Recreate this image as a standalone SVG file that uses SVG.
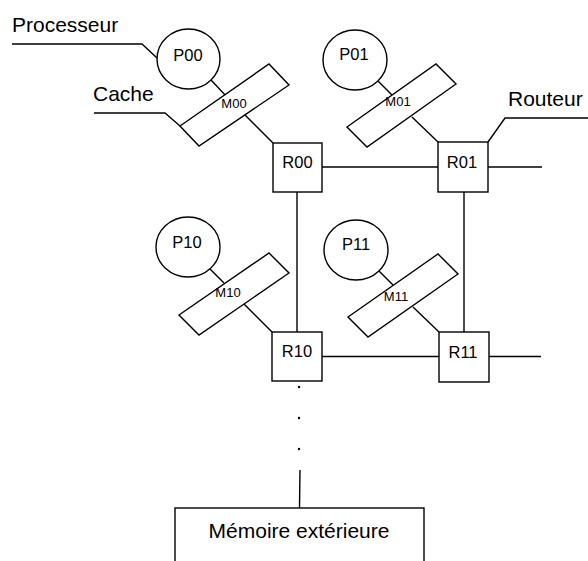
<svg xmlns="http://www.w3.org/2000/svg" width="588" height="561" viewBox="0 0 588 561">
<style>
.s{fill:none;stroke:#000;stroke-width:1.4;stroke-linejoin:miter}
.b{fill:#fff;stroke:#000;stroke-width:1.4}
text{font-family:"Liberation Sans",Arial,sans-serif;fill:#000}
.lbl{font-size:21px}
.n{font-size:16.5px;text-anchor:middle}
.m{font-size:13px;text-anchor:middle}
</style>
<rect width="588" height="561" fill="#fff"/>
<g id="connectors">
<polyline class="s" points="12,44 142,44 157,58"/>
<polyline class="s" points="94,113 165,113 180,126"/>
<polyline class="s" points="488,142 505,118 588,118"/>
<line class="s" x1="211" y1="80" x2="227" y2="97"/>
<line class="s" x1="245" y1="115" x2="273" y2="143"/>
<line class="s" x1="378" y1="81" x2="392" y2="95"/>
<line class="s" x1="412" y1="117" x2="438" y2="142"/>
<line class="s" x1="210" y1="269" x2="224" y2="283"/>
<line class="s" x1="244" y1="304" x2="272" y2="332"/>
<line class="s" x1="379" y1="271" x2="393" y2="285"/>
<line class="s" x1="413" y1="307" x2="439" y2="332"/>
<line class="s" x1="322" y1="167" x2="438" y2="167"/>
<line class="s" x1="488" y1="167" x2="542" y2="167"/>
<line class="s" x1="297" y1="192" x2="297" y2="332"/>
<line class="s" x1="464" y1="192" x2="464" y2="332"/>
<line class="s" x1="322" y1="356.5" x2="439" y2="356.5"/>
<line class="s" x1="489" y1="356.5" x2="541" y2="356.5"/>
<line class="s" x1="300" y1="470" x2="299.5" y2="508"/>
<circle cx="299" cy="387" r="1.2"/>
<circle cx="299" cy="418" r="1.2"/>
<circle cx="299" cy="449" r="1.2"/>
</g>
<text class="lbl" x="12" y="31.5">Processeur</text>
<text class="lbl" x="93" y="101">Cache</text>
<text class="lbl" x="508" y="106">Routeur</text>
<g id="P00"><ellipse class="b" cx="188.5" cy="59" rx="31.5" ry="30"/><text class="n" x="188" y="61">P00</text></g>
<g id="P01"><ellipse class="b" cx="355" cy="60" rx="32" ry="30"/><text class="n" x="354" y="60">P01</text></g>
<g id="P10"><ellipse class="b" cx="188" cy="247" rx="32" ry="30"/><text class="n" x="187" y="248">P10</text></g>
<g id="P11"><ellipse class="b" cx="356" cy="250" rx="32" ry="30"/><text class="n" x="356" y="250">P11</text></g>
<g id="M00"><polygon class="b" points="180,126 269,64 289,85 199,146"/><text class="m" x="234" y="108">M00</text></g>
<g id="M01"><polygon class="b" points="347,127 436,64 456,84 367,147"/><text class="m" x="398" y="106">M01</text></g>
<g id="M10"><polygon class="b" points="179,315 269,253 289,273 199,335"/><text class="m" x="228" y="297">M10</text></g>
<g id="M11"><polygon class="b" points="348,317 438,254 458,274 368,337"/><text class="m" x="396" y="301">M11</text></g>
<g id="R00"><rect class="b" x="273" y="143" width="49" height="49"/><text class="n" x="297.5" y="168">R00</text></g>
<g id="R01"><rect class="b" x="438" y="142" width="50" height="50"/><text class="n" x="462" y="168">R01</text></g>
<g id="R10"><rect class="b" x="272" y="332" width="50" height="49"/><text class="n" x="297" y="357">R10</text></g>
<g id="R11"><rect class="b" x="439" y="332" width="50" height="50"/><text class="n" x="463" y="358">R11</text></g>
<g id="memoire"><rect class="b" x="175" y="508" width="249" height="70"/><text class="lbl" x="299" y="538" text-anchor="middle">Mémoire extérieure</text></g>
</svg>
